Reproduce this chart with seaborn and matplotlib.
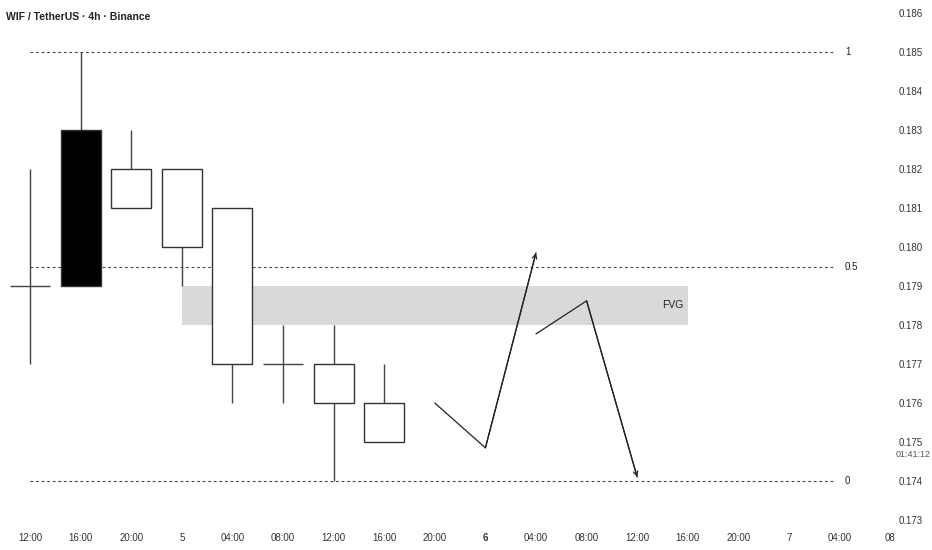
import matplotlib
matplotlib.use("Agg")
import matplotlib.pyplot as plt
import seaborn as sns
import pandas as pd
import numpy as np

# ---------------- data ----------------
time_labels = ["12:00", "16:00", "20:00", "5", "04:00", "08:00", "12:00", "16:00",
               "20:00", "6", "04:00", "08:00", "12:00", "16:00", "20:00", "7", "04:00", "08"]
opens  = [0.179, 0.179, 0.182, 0.182, 0.181, 0.177, 0.177, 0.176]
closes = [0.179, 0.183, 0.181, 0.180, 0.177, 0.177, 0.176, 0.175]
highs  = [0.182, 0.185, 0.183, 0.182, 0.181, 0.178, 0.178, 0.177]
lows   = [0.177, 0.179, 0.181, 0.179, 0.176, 0.176, 0.174, 0.175]

fib_levels = [0.185, 0.1795, 0.174]
fib_labels = ["1", "0.5", "0"]

fvg_x = [3, 13]
fvg_low, fvg_high = 0.178, 0.179

path1_x = [8, 9, 10]
path1_y = [0.1760, 0.17485, 0.17985]
path2_x = [10, 11, 12]
path2_y = [0.17777, 0.17862, 0.1741]

price_ticks = [0.173, 0.174, 0.175, 0.176, 0.177, 0.178, 0.179, 0.180,
               0.181, 0.182, 0.183, 0.184, 0.185, 0.186]
countdown_price = 0.17467
countdown_text = "01:41:12"
title = "WIF / TetherUS · 4h · Binance"

# ---------------- style ----------------
sns.set_theme(style="white")
plt.rcParams["font.family"] = ["Liberation Sans", "DejaVu Sans"]

W, H = 932, 550
fig = plt.figure(figsize=(W / 100, H / 100), dpi=100)
fig.patch.set_facecolor("white")
ax = fig.add_axes([0, 25 / H, 893 / W, 525 / H])
ax.set_facecolor("white")

px_per_bar = 50.6
ax.set_xlim(-30 / px_per_bar, (893 - 30) / px_per_bar)
ax.set_ylim(0.174 - 44 / 39 * 0.001, 0.174 + 481 / 39 * 0.001)

ink = "#222222"

# FVG zone
ax.fill_between(fvg_x, [fvg_low] * 2, [fvg_high] * 2, color="#d9d9d9", lw=0, zorder=1)
ax.text(12.92, (fvg_low + fvg_high) / 2, "FVG", ha="right", va="center",
        fontsize=7.5, color=ink, zorder=4)

# Fib levels
fib_end = (835 - 30) / px_per_bar
for lvl, lab in zip(fib_levels, fib_labels):
    ax.hlines(lvl, 0, fib_end, colors="#444444", linestyles=(0, (2.5, 2.5)),
              linewidth=0.8, zorder=1.5)
    ax.text(fib_end + 0.2, lvl, lab, ha="left", va="center", fontsize=7, color=ink)

# Candles
df = pd.DataFrame({"o": opens, "c": closes, "h": highs, "l": lows})
df["x"] = np.arange(len(df))
bw = 40 / px_per_bar
for _, r in df.iterrows():
    top = max(r.o, r.c)
    bot = min(r.o, r.c)
    if r.h > top:
        ax.vlines(r.x, top, r.h, colors="#444444", linewidth=1, zorder=2)
    if r.l < bot:
        ax.vlines(r.x, r.l, bot, colors="#444444", linewidth=1, zorder=2)
    if top == bot:
        ax.hlines(top, r.x - bw / 2, r.x + bw / 2, colors="#444444", linewidth=1, zorder=3)
    else:
        face = "black" if r.c > r.o else "white"
        ax.bar(r.x, top - bot, bottom=bot, width=bw, color=face,
               edgecolor="#333333", linewidth=1, zorder=3)

# Projected paths
paths = pd.DataFrame({
    "x": path1_x + path2_x,
    "y": path1_y + path2_y,
    "seg": ["a"] * len(path1_x) + ["b"] * len(path2_x),
})
sns.lineplot(data=paths, x="x", y="y", units="seg", estimator=None, sort=False,
             color=ink, linewidth=0.9, ax=ax, zorder=4, legend=False)
for px, py in ((path1_x, path1_y), (path2_x, path2_y)):
    ax.annotate("", xy=(px[-1], py[-1]), xytext=(px[-2], py[-2]),
                arrowprops=dict(arrowstyle="->", color=ink, lw=0.9,
                                shrinkA=0, shrinkB=0, mutation_scale=8),
                zorder=4)

# Axes formatting
ax.set_xlabel("")
ax.set_ylabel("")
for s in ax.spines.values():
    s.set_visible(False)
ax.yaxis.tick_right()
ax.set_yticks(price_ticks)
ax.set_yticklabels([f"{t:.3f}" for t in price_ticks])
ax.set_xticks(range(len(time_labels)))
ax.set_xticklabels(time_labels)
for lab in ax.get_xticklabels():
    if lab.get_text() == "6":
        lab.set_fontweight("bold")
ax.tick_params(axis="both", length=0, labelsize=7, colors="#333333")
ax.tick_params(axis="y", pad=4)
ax.tick_params(axis="x", pad=6)
ax.grid(False)

ax.text(1.0 + 3 / 893, countdown_price, countdown_text, transform=ax.get_yaxis_transform(),
        ha="left", va="center", fontsize=6.5, color="#555555")

fig.text(6 / W, 1 - 17 / H, title, ha="left", va="center", fontsize=7.5,
         fontweight="bold", color="#222222")

fig.savefig("out.png", dpi=100, facecolor="white")
